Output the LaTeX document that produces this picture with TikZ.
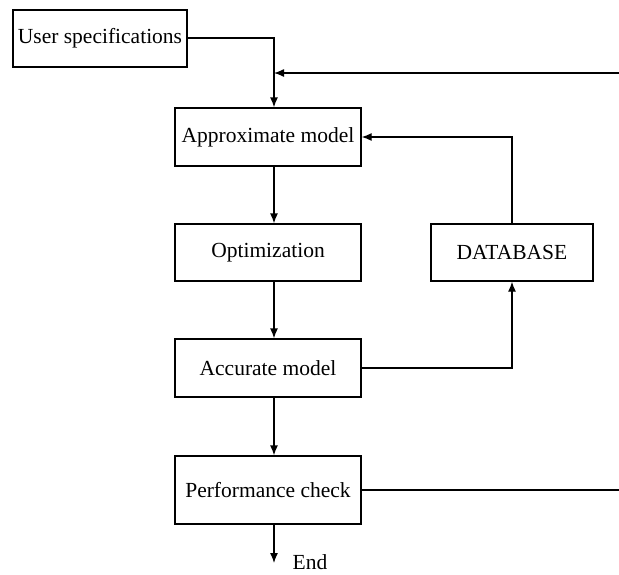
\documentclass[tikz,border=0pt]{standalone}
\usepackage{fontspec}
\setmainfont{Liberation Serif}
\usetikzlibrary{arrows.meta}

\begin{document}
\begin{tikzpicture}[x=1pt,y=-1pt,font=\fontsize{21.5}{25}\selectfont]
\useasboundingbox (0,0) rectangle (619,574);

\begin{scope}[every node/.style={draw,line width=1.3pt,inner sep=0pt}]
    \node[minimum width=174pt,minimum height=57pt] (spec)   at (100,38.5)  {User specifications};
    \node[minimum width=186pt,minimum height=58pt] (approx) at (268,137)   {Approximate model};
    \node[minimum width=186pt,minimum height=57pt] (optim)  at (268,252.5) {Optimization};
    \node[minimum width=162pt,minimum height=57pt] (db)     at (512,252.5) {DATABASE};
    \node[minimum width=186pt,minimum height=58pt] (accur)  at (268,368)   {Accurate model};
    \node[minimum width=186pt,minimum height=68pt] (perf)   at (268,490)   {Performance check};
\end{scope}

\node[inner sep=0pt] (done) at (310,562) {End};

% main flow runs down this line
\coordinate (spine) at (274,0);
\coordinate (loopin) at (619,73);
\coordinate (loopout) at (619,490);
\coordinate (tail) at (274,563);

\begin{scope}[>={Latex[length=10pt,width=8pt]},line width=1.3pt]
    \draw [->] (spec.east |- 0,38) -| (approx.north -| spine);
    \draw [->] (loopin) -- (loopin -| spine);
    \draw [->] (approx.south -| spine) -- (optim.north -| spine);
    \draw [->] (optim.south -| spine) -- (accur.north -| spine);
    \draw [->] (accur.east) -| (db.south);
    \draw [->] (db.north) |- (approx.east);
    \draw [->] (accur.south -| spine) -- (perf.north -| spine);
    \draw (perf.east) -- (loopout);
    \draw [->] (perf.south -| spine) -- (tail);
\end{scope}
\end{tikzpicture}
\end{document}
